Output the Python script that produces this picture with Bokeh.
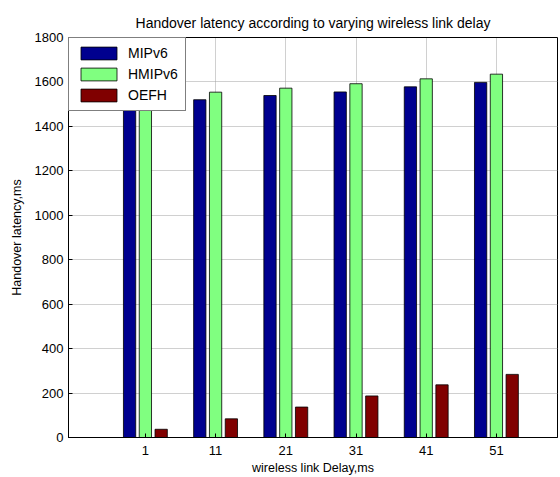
from bokeh.plotting import figure
from bokeh.models import Range1d, FixedTicker, Legend, LegendItem
from bokeh.embed import file_html
from bokeh.resources import INLINE

delays = ["1", "11", "21", "31", "41", "51"]
mipv6 = [1500, 1520, 1539, 1555, 1578, 1598]
hmipv6 = [1535, 1554, 1572, 1592, 1614, 1635]
oefh = [37, 84, 137, 187, 237, 284]
y_ticks = [0, 200, 400, 600, 800, 1000, 1200, 1400, 1600, 1800]

FONT = "Liberation Sans"
idx = list(range(1, len(delays) + 1))

p = figure(width=560, height=477, output_backend="svg", toolbar_location=None,
           x_range=Range1d(-0.095, 6.87), y_range=Range1d(0, 1800),
           min_border_left=68, min_border_right=3, min_border_top=37, min_border_bottom=40)

p.title.text = "Handover latency according to varying wireless link delay"
p.title.align = "center"
p.title.text_font = FONT
p.title.text_font_size = "14px"
p.title.text_font_style = "normal"
p.title.text_color = "black"
p.title.standoff = 14

off = 0.225
w = 0.175
r1 = p.vbar(x=[i - off for i in idx], top=mipv6, width=w, bottom=0, fill_color="#00008F", line_color="black", line_width=0.8)
r2 = p.vbar(x=idx, top=hmipv6, width=w, bottom=0, fill_color="#80FF80", line_color="black", line_width=0.8)
r3 = p.vbar(x=[i + off for i in idx], top=oefh, width=w, bottom=0, fill_color="#800000", line_color="black", line_width=0.8)

p.xaxis.ticker = FixedTicker(ticks=idx)
p.xaxis.major_label_overrides = {i: d for i, d in zip(idx, delays)}
p.yaxis.ticker = FixedTicker(ticks=y_ticks)
for ax in (p.xaxis, p.yaxis):
    ax.major_tick_in = 4
    ax.major_tick_out = 0
    ax.minor_tick_in = 0
    ax.minor_tick_out = 0
    ax.major_label_text_font = FONT
    ax.major_label_text_font_size = "13px"
    ax.major_label_text_color = "black"
    ax.axis_label_text_font = FONT
    ax.axis_label_text_font_size = "12.5px"
    ax.axis_label_text_font_style = "normal"
    ax.axis_label_text_color = "black"
    ax.axis_line_color = "black"
    ax.major_tick_line_color = "black"
p.xaxis.axis_label = "wireless link Delay,ms"
p.yaxis.axis_label = "Handover latency,ms"
p.xaxis.axis_label_standoff = 3
p.xaxis.major_label_standoff = 8
p.yaxis.axis_label_standoff = 8

p.xgrid.ticker = FixedTicker(ticks=idx)
p.ygrid.ticker = FixedTicker(ticks=y_ticks)
for g in (p.xgrid, p.ygrid):
    g.grid_line_color = "#a0a0a0"
    g.grid_line_dash = "1 1"
    g.grid_line_width = 1

p.outline_line_color = "black"
p.outline_line_width = 1
p.background_fill_color = "white"
p.border_fill_color = "white"

legend = Legend(items=[LegendItem(label="MIPv6", renderers=[r1]),
                       LegendItem(label="HMIPv6", renderers=[r2]),
                       LegendItem(label="OEFH", renderers=[r3])],
                location="top_left")
legend.margin = 0
legend.padding = 7
legend.spacing = 5
legend.glyph_width = 45
legend.glyph_height = 16
legend.label_standoff = 7
legend.label_text_font = FONT
legend.label_text_font_size = "14px"
legend.label_text_color = "black"
legend.border_line_color = "black"
legend.border_line_width = 1.5
legend.background_fill_alpha = 1
p.add_layout(legend, "center")

open("out.html", "w").write(file_html(p, INLINE))
